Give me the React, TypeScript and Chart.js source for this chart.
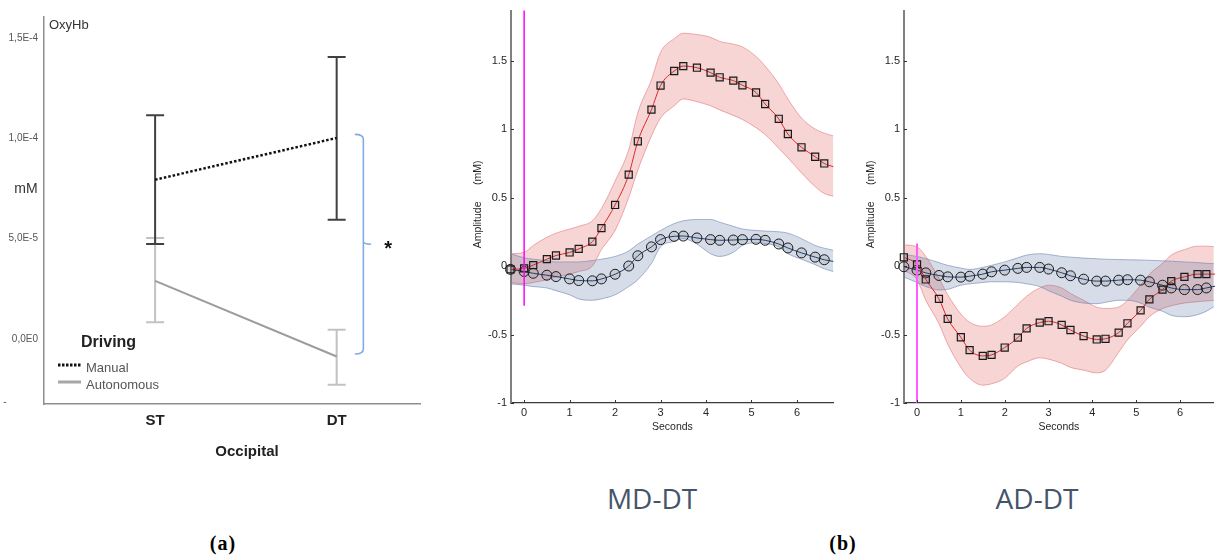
import React, { useEffect, useRef } from 'react';
import { Chart, registerables } from 'chart.js';
Chart.register(...registerables);

// ---------------- Panel (a) data ----------------
const conditions = ['ST', 'DT'];
const manualMean = [7.94e-5, 1.002e-4];
const manualLow = [4.74e-5, 5.95e-5];
const manualHigh = [1.115e-4, 1.406e-4];
const autoMean = [2.9e-5, -8.7e-6];
const autoLow = [8.3e-6, -2.28e-5];
const autoHigh = [5.03e-5, 4.6e-6];
const yTicksA = [0, 5e-5, 1e-4, 1.5e-4];
const yTickLabelsA = ['0,0E0', '5,0E-5', '1,0E-4', '1,5E-4'];

// ---------------- Panel (b) data ----------------
const seconds = [-0.3, 0, 0.2, 0.5, 0.7, 1, 1.2, 1.5, 1.7, 2, 2.3, 2.5, 2.8, 3, 3.3, 3.5, 3.8, 4.1, 4.3, 4.6, 4.8, 5.1, 5.3, 5.6, 5.8, 6.1, 6.4, 6.6, 6.8];
const secondTicks = [0, 1, 2, 3, 4, 5, 6];
const amplitudeTicks = [-1, -0.5, 0, 0.5, 1, 1.5];

// MD-DT
const mdOxy = [-0.024, -0.017, 0.007, 0.05, 0.077, 0.099, 0.125, 0.178, 0.277, 0.446, 0.667, 0.911, 1.142, 1.318, 1.424, 1.46, 1.448, 1.412, 1.378, 1.354, 1.32, 1.267, 1.183, 1.075, 0.964, 0.867, 0.798, 0.749, 0.725];
const mdOxyUpper = [0.09, 0.10, 0.15, 0.21, 0.24, 0.27, 0.29, 0.33, 0.42, 0.62, 0.85, 1.12, 1.36, 1.56, 1.66, 1.70, 1.69, 1.67, 1.64, 1.62, 1.60, 1.53, 1.46, 1.33, 1.22, 1.08, 1.00, 0.97, 0.95];
const mdOxyLower = [-0.12, -0.13, -0.12, -0.10, -0.08, -0.06, -0.04, 0.0, 0.12, 0.26, 0.50, 0.70, 0.95, 1.08, 1.17, 1.22, 1.20, 1.17, 1.14, 1.10, 1.07, 1.01, 0.96, 0.86, 0.79, 0.68, 0.58, 0.53, 0.51];
const mdDeoxy = [-0.024, -0.04, -0.053, -0.067, -0.077, -0.094, -0.106, -0.108, -0.094, -0.06, 0.0, 0.075, 0.14, 0.193, 0.217, 0.219, 0.205, 0.193, 0.188, 0.19, 0.193, 0.195, 0.188, 0.161, 0.132, 0.096, 0.065, 0.046, 0.034];
const mdDeoxyUpper = [0.09, 0.06, 0.05, 0.04, 0.03, 0.03, 0.03, 0.04, 0.05, 0.07, 0.11, 0.16, 0.22, 0.26, 0.31, 0.33, 0.34, 0.34, 0.32, 0.29, 0.27, 0.26, 0.255, 0.25, 0.24, 0.20, 0.15, 0.13, 0.115];
const mdDeoxyLower = [-0.13, -0.14, -0.15, -0.16, -0.18, -0.21, -0.24, -0.25, -0.24, -0.21, -0.15, -0.10, 0.02, 0.14, 0.18, 0.20, 0.16, 0.09, 0.07, 0.10, 0.15, 0.17, 0.165, 0.14, 0.09, 0.05, 0.01, -0.02, -0.04];
const mdOnset = [-0.29, 1.87];

// AD-DT
const adOxy = [0.064, 0.012, -0.098, -0.24, -0.386, -0.52, -0.614, -0.656, -0.649, -0.595, -0.523, -0.455, -0.413, -0.403, -0.43, -0.467, -0.511, -0.536, -0.531, -0.486, -0.418, -0.324, -0.243, -0.172, -0.11, -0.079, -0.059, -0.059, -0.059];
const adOxyUpper = [0.155, 0.14, 0.07, -0.09, -0.21, -0.35, -0.41, -0.44, -0.43, -0.37, -0.28, -0.22, -0.16, -0.14, -0.16, -0.20, -0.25, -0.30, -0.31, -0.30, -0.25, -0.14, -0.06, 0.02, 0.08, 0.12, 0.145, 0.145, 0.14];
const adOxyLower = [-0.03, -0.10, -0.25, -0.42, -0.57, -0.74, -0.82, -0.87, -0.86, -0.82, -0.73, -0.70, -0.67, -0.68, -0.71, -0.74, -0.76, -0.78, -0.76, -0.63, -0.54, -0.44, -0.37, -0.31, -0.29, -0.27, -0.26, -0.255, -0.25];
const adDeoxy = [-0.005, -0.03, -0.05, -0.069, -0.079, -0.081, -0.074, -0.059, -0.042, -0.03, -0.017, -0.01, -0.01, -0.022, -0.049, -0.071, -0.096, -0.11, -0.11, -0.103, -0.10, -0.103, -0.115, -0.14, -0.16, -0.172, -0.172, -0.16, -0.147];
const adDeoxyUpper = [0.085, 0.07, 0.055, 0.025, 0.005, -0.015, -0.025, -0.01, 0.005, 0.03, 0.06, 0.08, 0.09, 0.085, 0.07, 0.065, 0.058, 0.053, 0.05, 0.047, 0.046, 0.044, 0.042, 0.038, 0.035, 0.03, 0.025, 0.02, 0.017];
const adDeoxyLower = [-0.08, -0.12, -0.15, -0.175, -0.17, -0.14, -0.13, -0.12, -0.115, -0.115, -0.12, -0.13, -0.15, -0.18, -0.22, -0.25, -0.27, -0.275, -0.265, -0.25, -0.25, -0.27, -0.30, -0.33, -0.36, -0.37, -0.355, -0.33, -0.29];
const adOnset = [0.165, -1];

const SANS = '"Liberation Sans", Arial, sans-serif';

function pts(ys: number[]) {
  return seconds.map((t, i) => ({ x: t, y: ys[i] }));
}

function panelA(canvas: HTMLCanvasElement) {
  const errorPlugin = {
    id: 'errA',
    beforeDatasetsDraw(chart: any) {
      const { ctx, scales: { x, y } } = chart;
      const bar = (i: number, lo: number, hi: number, color: string) => {
        const px = x.getPixelForValue(i + 1);
        const pl = y.getPixelForValue(lo);
        const ph = y.getPixelForValue(hi);
        ctx.save();
        ctx.strokeStyle = color;
        ctx.lineWidth = 2;
        ctx.beginPath();
        ctx.moveTo(px, pl); ctx.lineTo(px, ph);
        ctx.moveTo(px - 9, pl); ctx.lineTo(px + 9, pl);
        ctx.moveTo(px - 9, ph); ctx.lineTo(px + 9, ph);
        ctx.stroke();
        ctx.restore();
      };
      conditions.forEach((_, i) => bar(i, autoLow[i], autoHigh[i], '#c2c2c2'));
      conditions.forEach((_, i) => bar(i, manualLow[i], manualHigh[i], '#404040'));
    },
    afterDraw(chart: any) {
      const { ctx, scales: { x, y } } = chart;
      ctx.save();
      ctx.fillStyle = '#333';
      ctx.font = `13px ${SANS}`;
      ctx.textAlign = 'left';
      ctx.textBaseline = 'alphabetic';
      ctx.fillText('OxyHb', 49, 29);
      ctx.font = `14px ${SANS}`;
      ctx.textAlign = 'center';
      ctx.textBaseline = 'middle';
      ctx.fillText('mM', 26, 189);
      ctx.font = `10px ${SANS}`;
      ctx.fillStyle = '#555';
      ctx.fillText('-', 5, 402);
      ctx.fillStyle = '#222';
      ctx.font = `bold 15px ${SANS}`;
      ctx.fillText('Occipital', 247, 452);
      // legend
      ctx.textAlign = 'left';
      ctx.textBaseline = 'alphabetic';
      ctx.font = `bold 16px ${SANS}`;
      ctx.fillText('Driving', 81, 347);
      ctx.strokeStyle = '#111';
      ctx.lineWidth = 3;
      ctx.setLineDash([2.5, 1.5]);
      ctx.beginPath(); ctx.moveTo(58, 365); ctx.lineTo(81, 365); ctx.stroke();
      ctx.setLineDash([]);
      ctx.strokeStyle = '#a6a6a6';
      ctx.beginPath(); ctx.moveTo(58, 382); ctx.lineTo(81, 382); ctx.stroke();
      ctx.fillStyle = '#555';
      ctx.font = `13px ${SANS}`;
      ctx.fillText('Manual', 86, 372);
      ctx.fillText('Autonomous', 86, 389);
      // significance bracket
      const bx = x.getPixelForValue(2.147);
      const bl = x.getPixelForValue(2.1);
      const br = x.getPixelForValue(2.19);
      const bt = y.getPixelForValue(1.02e-4);
      const bb = y.getPixelForValue(-7.5e-6);
      const bm = (bt + bb) / 2;
      ctx.strokeStyle = '#7fadde';
      ctx.lineWidth = 1.6;
      ctx.beginPath();
      ctx.moveTo(bl, bt);
      ctx.quadraticCurveTo(bx, bt, bx, bt + 5);
      ctx.lineTo(bx, bm - 3);
      ctx.quadraticCurveTo(bx, bm, br, bm);
      ctx.moveTo(bx, bm - 3);
      ctx.quadraticCurveTo(bx, bm, bx, bm + 3);
      ctx.lineTo(bx, bb - 5);
      ctx.quadraticCurveTo(bx, bb, bl, bb);
      ctx.stroke();
      ctx.fillStyle = '#111';
      ctx.font = `bold 20px ${SANS}`;
      ctx.textAlign = 'center';
      ctx.fillText('*', br + 17, bm + 11);
      ctx.restore();
    },
  };

  return new Chart(canvas, {
    type: 'line',
    data: {
      datasets: [
        {
          label: 'Manual',
          data: conditions.map((_, i) => ({ x: i + 1, y: manualMean[i] })),
          borderColor: '#111',
          borderWidth: 2.5,
          borderDash: [2.5, 2],
          pointRadius: 0,
          order: 0,
        },
        {
          label: 'Autonomous',
          data: conditions.map((_, i) => ({ x: i + 1, y: autoMean[i] })),
          borderColor: '#9c9c9c',
          borderWidth: 2,
          pointRadius: 0,
          order: 1,
        },
      ],
    },
    options: {
      responsive: false,
      animation: false,
      devicePixelRatio: 1,
      layout: { padding: { top: 17, right: 20, bottom: 0, left: 0 } },
      plugins: { legend: { display: false }, tooltip: { enabled: false } },
      scales: {
        x: {
          type: 'linear',
          min: 0.388,
          max: 2.459,
          grid: { display: false, drawTicks: false },
          border: { display: true, color: '#8e8e8e', width: 1.5 },
          afterBuildTicks: (s: any) => { s.ticks = conditions.map((_, i) => ({ value: i + 1 })); },
          afterFit: (s: any) => { s.height = 66; },
          ticks: {
            padding: 8,
            color: '#222',
            font: { family: SANS, size: 15, weight: 'bold' },
            callback: (v: any) => conditions[Math.round(Number(v)) - 1] ?? '',
          },
        },
        y: {
          min: -3.24e-5,
          max: 1.605e-4,
          grid: { display: false, drawTicks: false },
          border: { display: true, color: '#8e8e8e', width: 1.5 },
          afterBuildTicks: (s: any) => { s.ticks = yTicksA.map((v) => ({ value: v })); },
          afterFit: (s: any) => { s.width = 44; },
          ticks: {
            padding: 6,
            color: '#555',
            font: { family: SANS, size: 10 },
            callback: (_v: any, i: number) => yTickLabelsA[i],
          },
        },
      },
    },
    plugins: [errorPlugin],
  } as any);
}

function panelB(
  canvas: HTMLCanvasElement,
  yAxisWidth: number,
  xMin: number,
  xMax: number,
  rightPad: number,
  oxy: number[], oxyU: number[], oxyL: number[],
  deoxy: number[], deoxyU: number[], deoxyL: number[],
  onset: number[], onsetColor: string, onsetWidth: number,
) {
  const h = canvas.height;
  const markerRadius = seconds.map((_, i) => (i < seconds.length - 1 ? 5 : 0));
  const deco = {
    id: 'decoB',
    afterDraw(chart: any) {
      const { ctx, chartArea: a, scales: { x, y } } = chart;
      ctx.save();
      ctx.strokeStyle = '#333';
      ctx.lineWidth = 1;
      ctx.beginPath();
      amplitudeTicks.forEach((v) => {
        const py = Math.round(y.getPixelForValue(v)) + 0.5;
        ctx.moveTo(a.left, py); ctx.lineTo(a.left + 3, py);
      });
      secondTicks.forEach((v) => {
        const px = Math.round(x.getPixelForValue(v)) + 0.5;
        ctx.moveTo(px, a.bottom); ctx.lineTo(px, a.bottom - 3);
      });
      ctx.stroke();
      ctx.fillStyle = '#262626';
      ctx.font = `10.5px ${SANS}`;
      ctx.textAlign = 'center';
      ctx.textBaseline = 'middle';
      ctx.fillText('Seconds', (a.left + a.right) / 2, a.bottom + 24);
      const mid = (a.top + a.bottom) / 2;
      ctx.translate(a.left - 33, 0);
      ctx.rotate(-Math.PI / 2);
      ctx.fillText('Amplitude', -(mid + 18), 0);
      ctx.fillText('(mM)', -(mid - 34), 0);
      ctx.restore();
    },
  };
  return new Chart(canvas, {
    type: 'line',
    data: {
      datasets: [
        { data: pts(oxyU), borderColor: 'rgba(228,120,120,0.75)', borderWidth: 0.8, backgroundColor: 'rgba(222,80,80,0.24)', fill: '+1', pointRadius: 0, cubicInterpolationMode: 'monotone', order: 6 },
        { data: pts(oxyL), borderColor: 'rgba(228,120,120,0.75)', borderWidth: 0.8, fill: false, pointRadius: 0, cubicInterpolationMode: 'monotone', order: 6 },
        { data: pts(deoxyU), borderColor: 'rgba(110,135,180,0.75)', borderWidth: 0.8, backgroundColor: 'rgba(70,100,150,0.22)', fill: '+1', pointRadius: 0, cubicInterpolationMode: 'monotone', order: 5 },
        { data: pts(deoxyL), borderColor: 'rgba(110,135,180,0.75)', borderWidth: 0.8, fill: false, pointRadius: 0, cubicInterpolationMode: 'monotone', order: 5 },
        { data: pts(deoxy), borderColor: '#1d3b70', borderWidth: 1, pointStyle: 'circle', pointRadius: markerRadius, pointBorderColor: '#1a1a1a', pointBorderWidth: 1, pointBackgroundColor: 'rgba(90,90,90,0.12)', cubicInterpolationMode: 'monotone', clip: 8, order: 2 },
        { data: pts(oxy), borderColor: '#e02626', borderWidth: 1, pointStyle: 'rect', pointRadius: markerRadius, pointBorderColor: '#1a1a1a', pointBorderWidth: 1.2, pointBackgroundColor: 'rgba(90,90,90,0.12)', cubicInterpolationMode: 'monotone', clip: 8, order: 1 },
        { data: onset.map((v) => ({ x: 0, y: v })), borderColor: onsetColor, borderWidth: onsetWidth, pointRadius: 0, order: 0 },
      ],
    },
    options: {
      responsive: false,
      animation: false,
      devicePixelRatio: 1,
      layout: { padding: { top: 8, right: rightPad, bottom: 0, left: 0 } },
      plugins: { legend: { display: false }, tooltip: { enabled: false } },
      scales: {
        x: {
          type: 'linear',
          min: xMin,
          max: xMax,
          grid: { display: false, drawTicks: false },
          border: { display: true, color: '#3a3a3a', width: 1.2 },
          afterBuildTicks: (s: any) => { s.ticks = secondTicks.map((v) => ({ value: v })); },
          afterFit: (s: any) => { s.height = h - 403; },
          ticks: { padding: 3, color: '#262626', font: { family: SANS, size: 11 }, callback: (v: any) => String(v) },
        },
        y: {
          min: -1,
          max: 1.865,
          grid: { display: false, drawTicks: false },
          border: { display: true, color: '#808080', width: 2 },
          afterBuildTicks: (s: any) => { s.ticks = amplitudeTicks.map((v) => ({ value: v })); },
          afterFit: (s: any) => { s.width = yAxisWidth; },
          ticks: { padding: 4, color: '#262626', font: { family: SANS, size: 11 }, callback: (v: any) => String(v) },
        },
      },
    },
    plugins: [deco],
  } as any);
}

export default function App() {
  const refA = useRef<HTMLCanvasElement>(null);
  const refB1 = useRef<HTMLCanvasElement>(null);
  const refB2 = useRef<HTMLCanvasElement>(null);

  useEffect(() => {
    const charts: Chart[] = [];
    if (refA.current) charts.push(panelA(refA.current));
    if (refB1.current)
      charts.push(panelB(refB1.current, 71, -0.289, 6.81, 2, mdOxy, mdOxyUpper, mdOxyLower, mdDeoxy, mdDeoxyUpper, mdDeoxyLower, mdOnset, '#ff00ff', 1.5));
    if (refB2.current)
      charts.push(panelB(refB2.current, 64, -0.297, 6.77, 0, adOxy, adOxyUpper, adOxyLower, adDeoxy, adDeoxyUpper, adDeoxyLower, adOnset, '#ff5cff', 2));
    return () => charts.forEach((c) => c.destroy());
  }, []);

  const abs = (l: number, t: number, w: number, h: number): React.CSSProperties => ({
    position: 'absolute', left: l, top: t, width: w, height: h, display: 'block',
  });

  return (
    <div style={{ position: 'absolute', left: 0, top: 0, width: 1220, height: 555, background: '#fff', overflow: 'hidden' }}>
      <canvas ref={refA} width={440} height={470} style={abs(0, 0, 440, 470)} />
      <canvas ref={refB1} width={400} height={445} style={abs(440, 0, 400, 445)} />
      <canvas ref={refB2} width={380} height={445} style={abs(840, 0, 380, 445)} />
      <div style={{ position: 'absolute', left: 552, top: 479, width: 200, textAlign: 'center', font: `28px "Open Sans", sans-serif`, color: '#44546a' }}>MD-DT</div>
      <div style={{ position: 'absolute', left: 937, top: 479, width: 200, textAlign: 'center', font: `28px "Open Sans", sans-serif`, color: '#44546a' }}>AD-DT</div>
      <div style={{ position: 'absolute', left: 173, top: 532, width: 100, textAlign: 'center', font: `bold 20px "Liberation Serif", serif`, letterSpacing: 1, color: '#000' }}>(a)</div>
      <div style={{ position: 'absolute', left: 793, top: 532, width: 100, textAlign: 'center', font: `bold 20px "Liberation Serif", serif`, letterSpacing: 1, color: '#000' }}>(b)</div>
    </div>
  );
}
